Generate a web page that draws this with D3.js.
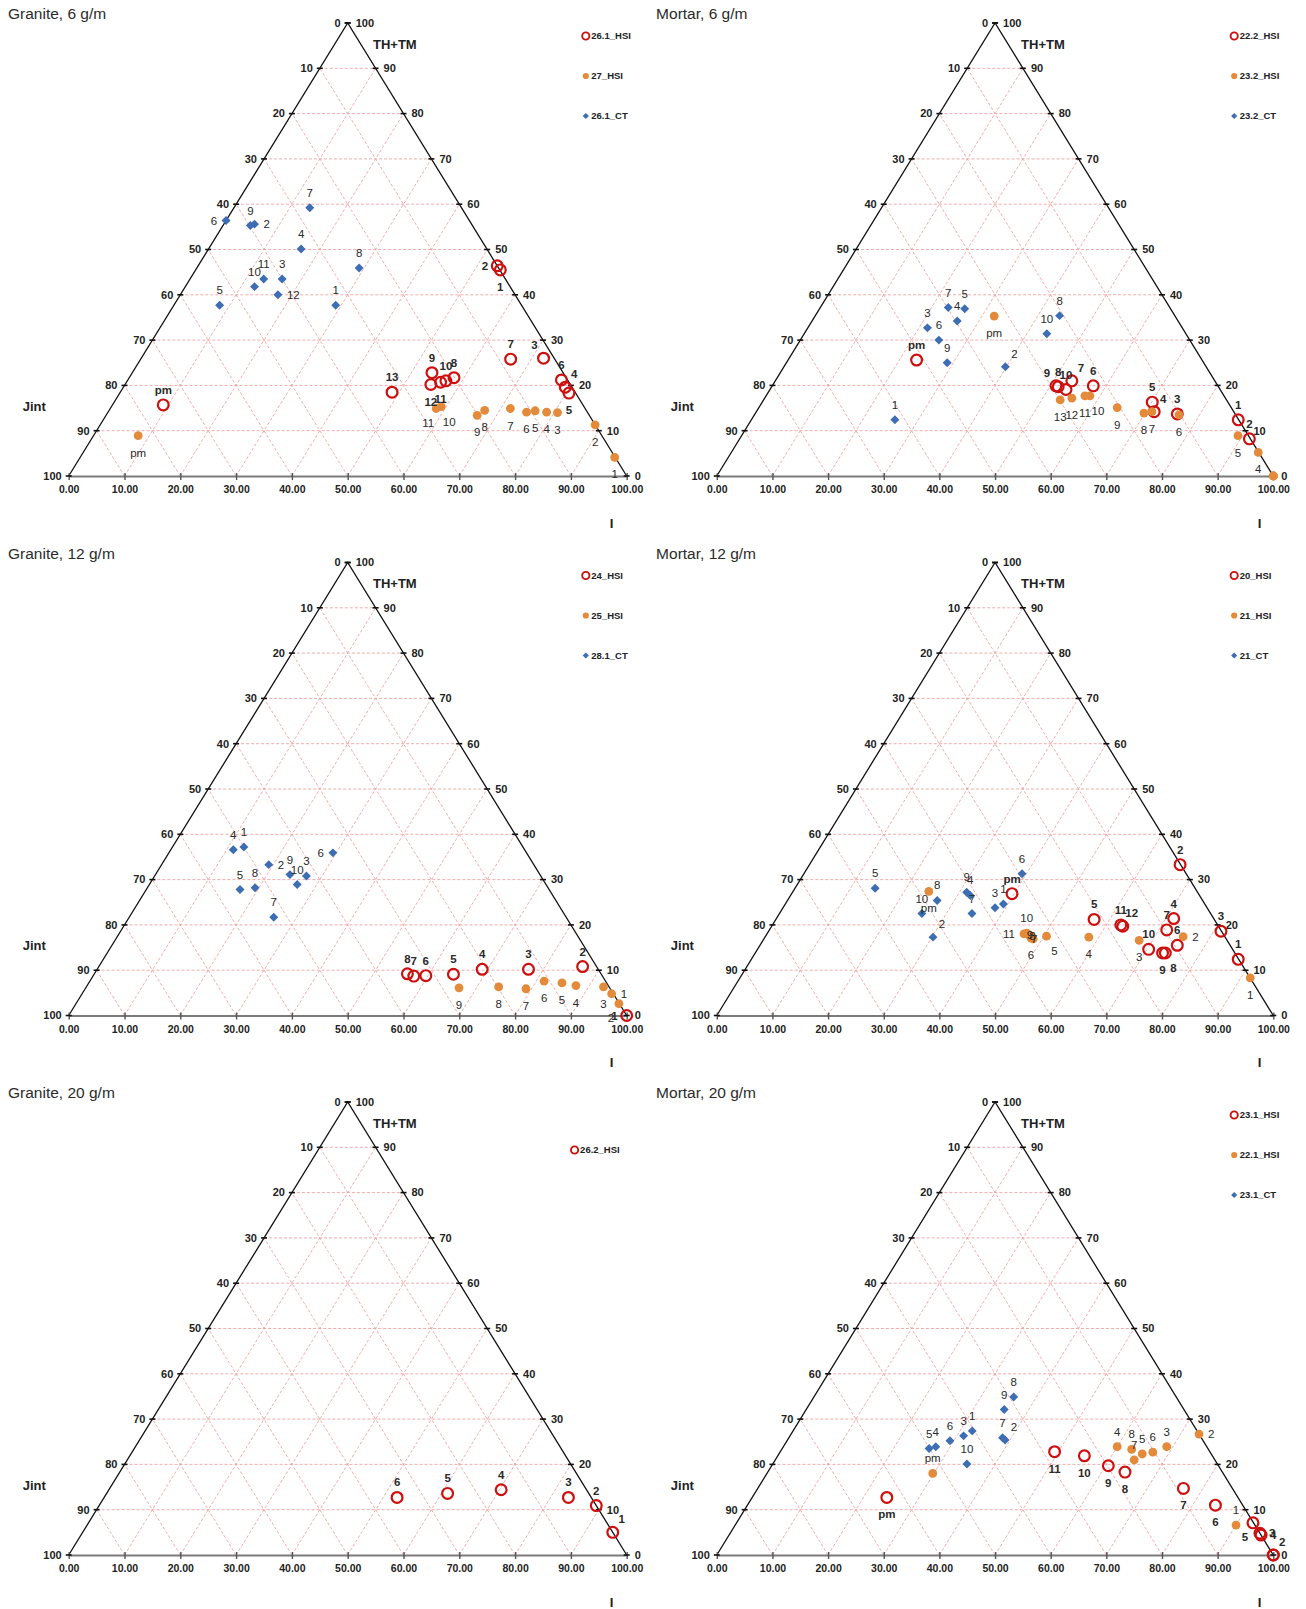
<!DOCTYPE html>
<html>
<head>
<meta charset="utf-8">
<script src="https://cdn.jsdelivr.net/npm/d3@7"></script>
<style>
  html, body { margin: 0; padding: 0; background: #fff; }
  svg { display: block; font-family: "Liberation Sans", Arial, sans-serif; }
</style>
</head>
<body>
<svg id="chart" width="1306" height="1609"></svg>
<script>
// Ternary compositions, each point: [label, I, TH+TM]  (Jint = 100 - I - TH+TM)

// ---- Granite, 6 g/m ----
const granite6_hsi261 = [
  ["pm", 9.1, 15.7], ["1", 54.6, 45.5], ["2", 53.6, 46.4], ["3", 72.1, 26.0],
  ["4", 79.2, 19.6], ["5", 80.5, 18.3], ["6", 77.7, 21.2], ["7", 66.3, 25.8],
  ["8", 58.2, 21.7], ["9", 53.7, 22.8], ["10", 57.1, 21.0], ["11", 56.3, 20.7],
  ["12", 54.8, 20.2], ["13", 48.7, 18.5]
];
const granite6_hsi27 = [
  ["pm", 8.0, 8.9], ["1", 95.8, 4.1], ["2", 88.7, 11.3], ["3", 80.6, 14.0],
  ["4", 78.6, 14.1], ["5", 76.4, 14.4], ["6", 75.0, 14.1], ["7", 71.7, 14.9],
  ["8", 67.3, 14.5], ["9", 66.5, 13.4], ["10", 59.1, 15.3], ["11", 58.4, 14.9]
];
const granite6_ct261 = [
  ["1", 29.0, 37.7], ["2", 5.5, 55.6], ["3", 16.5, 43.5], ["4", 16.6, 50.1],
  ["5", 8.2, 37.7], ["6", 0.0, 56.4], ["7", 13.6, 59.2], ["8", 29.1, 45.9],
  ["9", 4.9, 55.3], ["10", 12.4, 41.8], ["11", 13.2, 43.5], ["12", 17.5, 40.0]
];

// ---- Mortar, 6 g/m ----
const mortar6_hsi222 = [
  ["pm", 23.1, 25.6], ["1", 87.5, 12.4], ["2", 91.6, 8.2], ["3", 75.9, 13.7],
  ["4", 71.5, 14.2], ["5", 70.1, 16.3], ["6", 57.7, 19.9], ["7", 53.3, 21.0],
  ["8", 51.5, 19.7], ["9", 51.0, 19.9], ["10", 53.2, 19.1]
];
const mortar6_hsi232 = [
  ["pm", 32.2, 35.3], ["1", 100, 0], ["2", 100, 0], ["3", 100, 0],
  ["4", 94.7, 5.2], ["5", 89.2, 8.9], ["6", 76.3, 13.5], ["7", 71.1, 14.2],
  ["8", 69.8, 13.9], ["9", 64.4, 15.1], ["10", 58.2, 17.7], ["11", 57.3, 17.7],
  ["12", 55.2, 17.2], ["13", 53.3, 16.8]
];
const mortar6_ct232 = [
  ["1", 25.8, 12.4], ["2", 39.8, 24.1], ["3", 21.5, 32.7], ["4", 26.1, 34.2],
  ["5", 26.1, 36.9], ["6", 24.9, 30.0], ["7", 23.0, 37.2], ["8", 43.9, 35.4],
  ["9", 28.9, 25.0], ["10", 43.6, 31.4]
];

// ---- Granite, 12 g/m ----
const granite12_hsi24 = [
  ["1", 100, 0], ["2", 86.7, 10.8], ["3", 77.3, 10.2], ["4", 69.0, 10.2],
  ["5", 64.4, 9.1], ["6", 59.6, 8.8], ["7", 57.5, 8.7], ["8", 56.1, 9.2]
];
const granite12_hsi25 = [
  ["1", 94.9, 4.8], ["2", 97.3, 2.6], ["3", 92.7, 6.3], ["4", 87.6, 6.6],
  ["5", 84.8, 7.2], ["6", 81.4, 7.6], ["7", 79.0, 5.9], ["8", 73.9, 6.3],
  ["9", 66.9, 6.1]
];
const granite12_ct281 = [
  ["1", 12.8, 37.2], ["2", 19.2, 33.3], ["3", 27.2, 30.8], ["4", 11.2, 36.6],
  ["5", 16.8, 27.8], ["6", 29.4, 35.9], ["7", 25.9, 21.7], ["8", 19.3, 28.2],
  ["9", 24.1, 31.1], ["10", 26.5, 28.9]
];

// ---- Mortar, 12 g/m ----
const mortar12_hsi20 = [
  ["pm", 39.6, 26.9], ["1", 87.5, 12.4], ["2", 66.6, 33.3], ["3", 81.3, 18.6],
  ["4", 71.4, 21.4], ["5", 57.2, 21.2], ["6", 75.0, 15.5], ["7", 71.4, 18.9],
  ["8", 73.7, 13.8], ["9", 73.2, 13.8], ["10", 70.3, 14.6], ["11", 62.6, 20.0],
  ["12", 63.1, 19.7]
];
const mortar12_hsi21 = [
  ["pm", 24.4, 27.4], ["1", 91.7, 8.3], ["2", 75.1, 17.4], ["3", 67.6, 16.6],
  ["4", 58.2, 17.3], ["5", 50.5, 17.5], ["6", 47.9, 17.1], ["7", 48.4, 16.9],
  ["8", 47.8, 17.5], ["9", 47.2, 17.8], ["10", 46.6, 18.2], ["11", 46.2, 18.0]
];
const mortar12_ct21 = [
  ["1", 39.2, 24.6], ["2", 30.2, 17.3], ["3", 38.1, 23.8], ["4", 32.3, 26.5],
  ["5", 14.4, 28.1], ["6", 39.2, 31.3], ["7", 34.6, 22.5], ["8", 26.9, 25.4],
  ["9", 31.3, 27.2], ["10", 25.6, 22.5]
];

// ---- Granite, 20 g/m ----
const granite20_hsi262 = [
  ["1", 95.0, 5.0], ["2", 89.1, 10.9], ["3", 83.2, 12.7],
  ["4", 70.3, 14.4], ["5", 61.1, 13.6], ["6", 52.5, 12.7]
];

// ---- Mortar, 20 g/m ----
const mortar20_hsi231 = [
  ["pm", 24.2, 12.7], ["1", 100, 0], ["2", 100, 0], ["3", 95.2, 4.8],
  ["4", 95.6, 4.4], ["5", 92.8, 7.1], ["6", 84.1, 11.0], ["7", 76.5, 14.7],
  ["8", 64.2, 18.3], ["9", 60.5, 19.7], ["10", 55.1, 21.9], ["11", 49.3, 22.8]
];
const mortar20_hsi221 = [
  ["pm", 29.8, 18.0], ["1", 90.0, 6.6], ["2", 73.3, 26.7], ["3", 68.9, 23.9],
  ["4", 60.0, 23.9], ["5", 65.3, 22.3], ["6", 67.0, 22.7], ["7", 64.5, 21.0],
  ["8", 62.9, 23.3]
];
const mortar20_ct231 = [
  ["1", 32.2, 27.4], ["2", 39.1, 25.4], ["3", 31.2, 26.3], ["4", 27.4, 23.9],
  ["5", 26.4, 23.5], ["6", 29.3, 25.2], ["7", 38.4, 25.9], ["8", 35.9, 34.9],
  ["9", 35.6, 32.1], ["10", 34.9, 20.1]
];

const axisTicks = d3.range(0, 101, 10);

// Where each point label sits relative to its marker (one code per point)
const labelPlacement = {
  granite6_hsi261: "t b l tl tr b t t t t t b b t",
  granite6_hsi27:  "b b b b b b b b b b br bl",
  granite6_ct261:  "t r t t t l t t t t t r",
  mortar6_hsi222:  "t t t t tr t t tr t tl t",
  mortar6_hsi232:  "b n n n b b b b b b br b b b",
  mortar6_ct232:   "t tr t t t t t t t t",
  granite12_hsi24: "l t t t t t t t",
  granite12_hsi25: "r bl b b b b b b b",
  granite12_ct281: "t r t t t l t t t t",
  mortar12_hsi20:  "t t t t t t t t br b t t tr",
  mortar12_hsi21:  "b b r b b br b c c c t l",
  mortar12_ct21:   "t tr t t t t t t t t",
  granite20_hsi262:"tr t t t t t",
  mortar20_hsi231: "b n tr r r bl b b b b b b",
  mortar20_hsi221: "t t r t t t t t t",
  mortar20_ct231:  "t tr t t t t t t t t"
};

const offsets = {
  t:  [0, -15, "middle"], b: [0, 17, "middle"],
  l:  [-9, 0, "end"],     r: [9, 0, "start"],
  tl: [-9, -13, "middle"], tr: [9, -13, "middle"],
  bl: [-8, 14, "middle"], br: [8, 15, "middle"],
  c:  [1, 0, "middle"]
};

const COLORS = { red: "#cc1010", orange: "#e38a3b", blue: "#3d6db2", grid: "#f0a3a3" };
const TRI_H = 453;

const panels = [
  { title: "Granite, 6 g/m", x0: 68.7, w: 558, base: 476, legend: [585.8, 36],
    series: [["granite6_hsi261", "26.1_HSI", "open", granite6_hsi261],
             ["granite6_hsi27", "27_HSI", "dot", granite6_hsi27],
             ["granite6_ct261", "26.1_CT", "diamond", granite6_ct261]] },
  { title: "Mortar, 6 g/m", x0: 716.8, w: 556.5, base: 476, legend: [1234.2, 36],
    series: [["mortar6_hsi222", "22.2_HSI", "open", mortar6_hsi222],
             ["mortar6_hsi232", "23.2_HSI", "dot", mortar6_hsi232],
             ["mortar6_ct232", "23.2_CT", "diamond", mortar6_ct232]] },
  { title: "Granite, 12 g/m", x0: 68.7, w: 558, base: 1015.5, legend: [585.8, 575.5],
    series: [["granite12_hsi24", "24_HSI", "open", granite12_hsi24],
             ["granite12_hsi25", "25_HSI", "dot", granite12_hsi25],
             ["granite12_ct281", "28.1_CT", "diamond", granite12_ct281]] },
  { title: "Mortar, 12 g/m", x0: 716.8, w: 556.5, base: 1015.5, legend: [1234.2, 575.5],
    series: [["mortar12_hsi20", "20_HSI", "open", mortar12_hsi20],
             ["mortar12_hsi21", "21_HSI", "dot", mortar12_hsi21],
             ["mortar12_ct21", "21_CT", "diamond", mortar12_ct21]] },
  { title: "Granite, 20 g/m", x0: 68.7, w: 558, base: 1555, legend: [574.6, 1150],
    series: [["granite20_hsi262", "26.2_HSI", "open", granite20_hsi262]] },
  { title: "Mortar, 20 g/m", x0: 716.8, w: 556.5, base: 1555, legend: [1234.2, 1115],
    series: [["mortar20_hsi231", "23.1_HSI", "open", mortar20_hsi231],
             ["mortar20_hsi221", "22.1_HSI", "dot", mortar20_hsi221],
             ["mortar20_ct231", "23.1_CT", "diamond", mortar20_ct231]] }
];

const svg = d3.select("#chart");
const diamond = size => d3.symbol(d3.symbolSquare, size)();

function drawMarker(sel, kind, x, y, small) {
  if (kind === "open") {
    sel.append("circle").attr("cx", x).attr("cy", y).attr("r", small ? 3.6 : 5.4)
      .attr("fill", "none").attr("stroke", COLORS.red).attr("stroke-width", small ? 1.9 : 2.2);
  } else if (kind === "dot") {
    sel.append("circle").attr("cx", x).attr("cy", y).attr("r", small ? 3.1 : 4.4)
      .attr("fill", COLORS.orange);
  } else {
    sel.append("path").attr("d", diamond(small ? 19 : 40))
      .attr("transform", `translate(${x},${y}) rotate(45)`)
      .attr("fill", COLORS.blue);
  }
}

panels.forEach(p => {
  const g = svg.append("g");
  const top = p.base - TRI_H;
  const x = d3.scaleLinear().domain([0, 100]).range([p.x0, p.x0 + p.w]);
  const y = d3.scaleLinear().domain([0, 100]).range([p.base, top]);
  const px = (I, T) => x(I + T / 2);

  // title
  g.append("text").attr("x", p.x0 - 60.7).attr("y", top - 4)
    .attr("font-size", 15.5).attr("fill", "#2b2b2b").text(p.title);

  // dashed grid, three families every 10
  const grid = g.append("g").attr("stroke", COLORS.grid).attr("stroke-width", 0.9)
    .attr("stroke-dasharray", "3,2").attr("fill", "none");
  axisTicks.slice(1, -1).forEach(v => {
    grid.append("line").attr("x1", px(0, v)).attr("y1", y(v)).attr("x2", px(100 - v, v)).attr("y2", y(v));
    grid.append("line").attr("x1", px(v, 0)).attr("y1", y(0)).attr("x2", px(v, 100 - v)).attr("y2", y(100 - v));
    grid.append("line").attr("x1", px(100 - v, 0)).attr("y1", y(0)).attr("x2", px(0, 100 - v)).attr("y2", y(100 - v));
  });

  // side edges
  g.append("path")
    .attr("d", `M${px(0, 0)},${y(0)}L${px(0, 100)},${y(100)}L${px(100, 0)},${y(0)}`)
    .attr("fill", "none").attr("stroke", "#111").attr("stroke-width", 1.3);

  // bottom axis (I)
  const ax = g.append("g").attr("transform", `translate(0,${p.base})`)
    .call(d3.axisBottom(x).tickValues(axisTicks).tickFormat(d3.format(".2f"))
      .tickSize(4).tickSizeOuter(0).tickPadding(6));
  ax.select(".domain").attr("stroke", "#7a7a7a").attr("stroke-width", 1.8);
  ax.selectAll(".tick line").attr("stroke", "#555").attr("stroke-width", 1.4).attr("y1", -3);
  ax.selectAll(".tick text").attr("font-size", 10.5).attr("font-weight", "bold")
    .attr("fill", "#222").attr("font-family", "Liberation Sans, Arial, sans-serif");

  // edge ticks and labels
  axisTicks.forEach(t => {
    const yl = y(t), xl = px(0, t), xr = px(100 - t, t);
    g.append("line").attr("x1", xl - 3).attr("x2", xl + 3).attr("y1", yl).attr("y2", yl)
      .attr("stroke", "#111").attr("stroke-width", 1.6);
    g.append("line").attr("x1", xr - 3).attr("x2", xr + 3).attr("y1", yl).attr("y2", yl)
      .attr("stroke", "#111").attr("stroke-width", 1.6);
    g.append("text").attr("x", xl - 7).attr("y", yl).attr("dy", "0.35em")
      .attr("text-anchor", "end").attr("font-size", 11).attr("font-weight", "bold")
      .attr("fill", "#222").text(100 - t);
    g.append("text").attr("x", xr + 8).attr("y", yl).attr("dy", "0.35em")
      .attr("font-size", 11).attr("font-weight", "bold").attr("fill", "#222").text(t);
  });

  // axis titles
  g.append("text").attr("x", p.x0 + 304.3).attr("y", p.base - 432).attr("dy", "0.35em")
    .attr("font-size", 13).attr("font-weight", "bold").attr("fill", "#222").text("TH+TM");
  g.append("text").attr("x", p.x0 - 46).attr("y", p.base - 70).attr("dy", "0.35em")
    .attr("font-size", 13).attr("font-weight", "bold").attr("fill", "#222").text("Jint");
  g.append("text").attr("x", p.x0 + 542.8).attr("y", p.base + 47).attr("dy", "0.35em")
    .attr("text-anchor", "middle").attr("font-size", 13).attr("font-weight", "bold")
    .attr("fill", "#222").text("I");

  // points, then labels
  const marks = g.append("g");
  const labels = g.append("g");
  p.series.forEach(([id, name, kind, data]) => {
    const codes = labelPlacement[id].split(" ");
    data.forEach(([lab, I, T], i) => {
      const cx = px(I, T), cy = y(T);
      drawMarker(marks, kind, cx, cy, false);
      const o = offsets[codes[i]];
      if (!o) return;
      labels.append("text").attr("x", cx + o[0]).attr("y", cy + o[1]).attr("dy", "0.35em")
        .attr("text-anchor", o[2]).attr("font-size", 11.5)
        .attr("font-weight", kind === "open" ? "bold" : "normal")
        .attr("fill", "#2a2a2a").text(lab);
    });
  });

  // legend
  const [lx, ly] = p.legend;
  p.series.forEach(([id, name, kind], i) => {
    const yy = ly + i * 40;
    drawMarker(g, kind, lx, yy, true);
    g.append("text").attr("x", lx + 5.5).attr("y", yy).attr("dy", "0.35em")
      .attr("font-size", 9.5).attr("font-weight", "bold").attr("fill", "#222").text(name);
  });
});
</script>
</body>
</html>
